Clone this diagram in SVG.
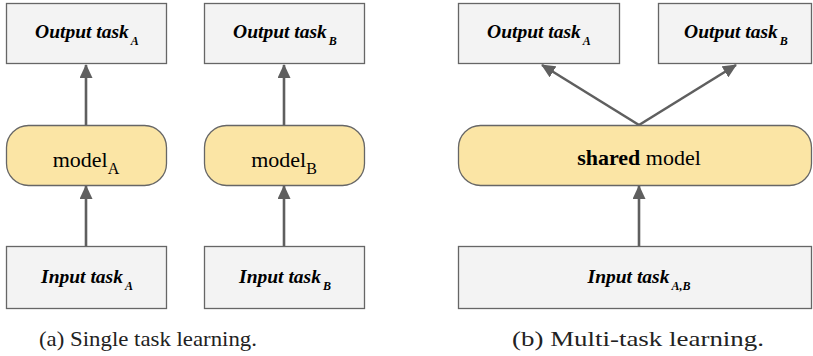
<svg xmlns="http://www.w3.org/2000/svg" width="813" height="356" viewBox="0 0 813 356">
<style>
.box{fill:#f3f3f3;stroke:#666;stroke-width:1.3}
.mdl{fill:#fbe5a5;stroke:#666;stroke-width:1.3}
.lbl{font-weight:bold;font-style:italic;font-size:19.5px;fill:#000;text-anchor:middle}
.sub{font-size:12px}
.mt{font-size:22px;fill:#000;text-anchor:middle}
.msub{font-size:16px}
.cap{font-size:22px;fill:#222;text-anchor:middle}
.edge{stroke:#5f5f5f;stroke-width:2.6;fill:none;marker-end:url(#ah)}
</style>
<defs>
<marker id="ah" markerUnits="userSpaceOnUse" markerWidth="14" markerHeight="13" refX="13" refY="6.5" orient="auto">
<path d="M0,0 L14,6.5 L0,13 Z" fill="#5f5f5f"/>
</marker>
</defs>
<g id="connectors">
<line class="edge" x1="86" y1="125" x2="86" y2="65"/>
<line class="edge" x1="86" y1="246" x2="86" y2="186"/>
<line class="edge" x1="284" y1="125" x2="284" y2="65"/>
<line class="edge" x1="284" y1="246" x2="284" y2="186"/>
<line class="edge" x1="639" y1="246" x2="639" y2="186"/>
<line class="edge" x1="639" y1="125" x2="542" y2="65"/>
<line class="edge" x1="639" y1="125" x2="736" y2="65"/>
</g>
<g id="outA1"><rect class="box" x="6.5" y="3.5" width="160" height="60"/><text class="lbl" font-family="Liberation Serif" x="87" y="38">Output task<tspan class="sub" dx="2" dy="7">A</tspan></text></g>
<g id="outB1"><rect class="box" x="204.5" y="3.5" width="160" height="60"/><text class="lbl" font-family="Liberation Serif" x="285" y="38">Output task<tspan class="sub" dx="2" dy="7">B</tspan></text></g>
<g id="modelA"><rect class="mdl" x="6.5" y="125.5" width="160" height="60" rx="22"/><text class="mt" font-family="Liberation Serif" x="86" y="167">model<tspan class="msub" dy="7">A</tspan></text></g>
<g id="modelB"><rect class="mdl" x="204.5" y="125.5" width="160" height="60" rx="22"/><text class="mt" font-family="Liberation Serif" x="284" y="167">model<tspan class="msub" dy="7">B</tspan></text></g>
<g id="inA1"><rect class="box" x="6.5" y="246.5" width="160" height="62"/><text class="lbl" font-family="Liberation Serif" x="87" y="283">Input task<tspan class="sub" dx="2" dy="7">A</tspan></text></g>
<g id="inB1"><rect class="box" x="204.5" y="246.5" width="160" height="62"/><text class="lbl" font-family="Liberation Serif" x="285" y="283">Input task<tspan class="sub" dx="2" dy="7">B</tspan></text></g>
<g id="outA2"><rect class="box" x="458.5" y="3.5" width="161" height="60"/><text class="lbl" font-family="Liberation Serif" x="539" y="38">Output task<tspan class="sub" dx="2" dy="7">A</tspan></text></g>
<g id="outB2"><rect class="box" x="658.5" y="3.5" width="153" height="60"/><text class="lbl" font-family="Liberation Serif" x="736" y="38">Output task<tspan class="sub" dx="2" dy="7">B</tspan></text></g>
<g id="shared"><rect class="mdl" x="458.5" y="125.5" width="353" height="60" rx="22"/><text class="mt" font-family="Liberation Serif" x="639" y="165"><tspan font-weight="bold">shared</tspan> model</text></g>
<g id="inAB"><rect class="box" x="458.5" y="246.5" width="353" height="62"/><text class="lbl" font-family="Liberation Serif" x="639" y="283">Input task<tspan class="sub" dx="2" dy="7">A,B</tspan></text></g>
<text class="cap" font-family="Liberation Serif" x="148" y="346" textLength="218" lengthAdjust="spacingAndGlyphs">(a) Single task learning.</text>
<text class="cap" font-family="Liberation Serif" x="638" y="346" textLength="252" lengthAdjust="spacingAndGlyphs">(b) Multi-task learning.</text>
</svg>
